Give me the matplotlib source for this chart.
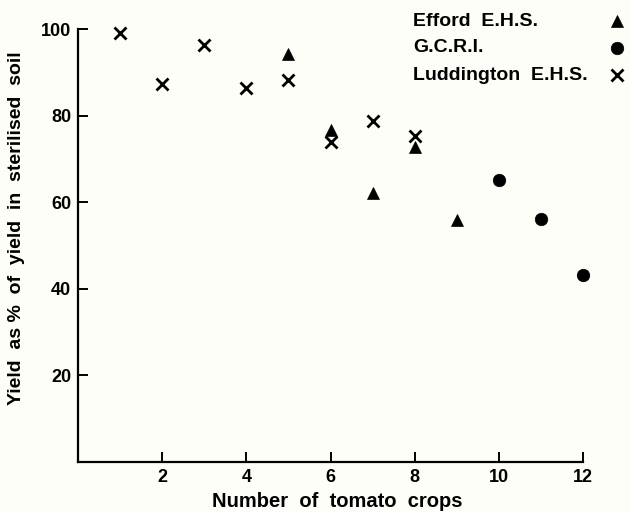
import matplotlib.pyplot as plt

plt.rcParams['font.family'] = ['Liberation Sans', 'DejaVu Sans']
plt.rcParams['font.weight'] = 'bold'

# yield as % of sterilised soil, by number of consecutive tomato crops
efford_crops = [5, 6, 7, 8, 9]
efford_yield = [94.2, 76.7, 62.1, 72.8, 55.9]

gcri_crops = [10, 11, 12]
gcri_yield = [65.1, 56.1, 43.2]

ludd_crops = [1, 2, 3, 4, 5, 6, 7, 8]
ludd_yield = [99.0, 87.4, 96.4, 86.4, 88.2, 73.9, 78.8, 75.3]

x_ticks = [2, 4, 6, 8, 10, 12]
y_ticks = [20, 40, 60, 80, 100]

series = [
  ('Efford  E.H.S.', efford_crops, efford_yield, dict(marker='^', ms=8, mfc='black', mec='black', mew=0.5)),
  ('G.C.R.I.', gcri_crops, gcri_yield, dict(marker='o', ms=9, mfc='black', mec='black', mew=0.5)),
  ('Luddington  E.H.S.', ludd_crops, ludd_yield, dict(marker='x', ms=8, mec='black', mew=2)),
]

bg = '#fefef8'
fig = plt.figure(figsize=(6.3, 5.12), dpi=100, facecolor=bg)
ax = fig.add_axes([78 / 630, 1 - 462 / 512, 505 / 630, 433 / 512])
ax.set_facecolor(bg)

for name, xs, ys, style in series:
  ax.plot(xs, ys, linestyle='none', clip_on=False, zorder=3, **style)

ax.set_xlim(0, 12)
ax.set_ylim(0, 100)
ax.set_xticks(x_ticks)
ax.set_yticks(y_ticks)

for side in ['top', 'right']:
  ax.spines[side].set_visible(False)
for side in ['left', 'bottom']:
  ax.spines[side].set_linewidth(1.6)
  ax.spines[side].set_capstyle('projecting')

ax.tick_params(direction='in', length=7, width=1.4, labelsize=13, pad=5)

ax.set_xlabel('Number  of  tomato  crops', fontsize=14.5, fontweight='bold', va='center')
ax.set_ylabel('Yield  as %  of  yield  in  sterilised  soil', fontsize=14,
              fontweight='bold', va='center')
ax.xaxis.set_label_coords(0.513, -0.092)
ax.yaxis.set_label_coords(-0.121, 0.54)

# key in the top right corner: labels on the left, symbols on the right
row_y = [21, 48, 75]
for (name, xs, ys, style), py in zip(series, row_y):
  fy = 1 - py / 512
  fig.text(413 / 630, fy, name, fontsize=14, fontweight='bold', va='center', ha='left')
  fig.add_artist(plt.Line2D([617 / 630], [fy], linestyle='none', transform=fig.transFigure, **style))

fig.savefig('out.png', dpi=100, facecolor=bg)
